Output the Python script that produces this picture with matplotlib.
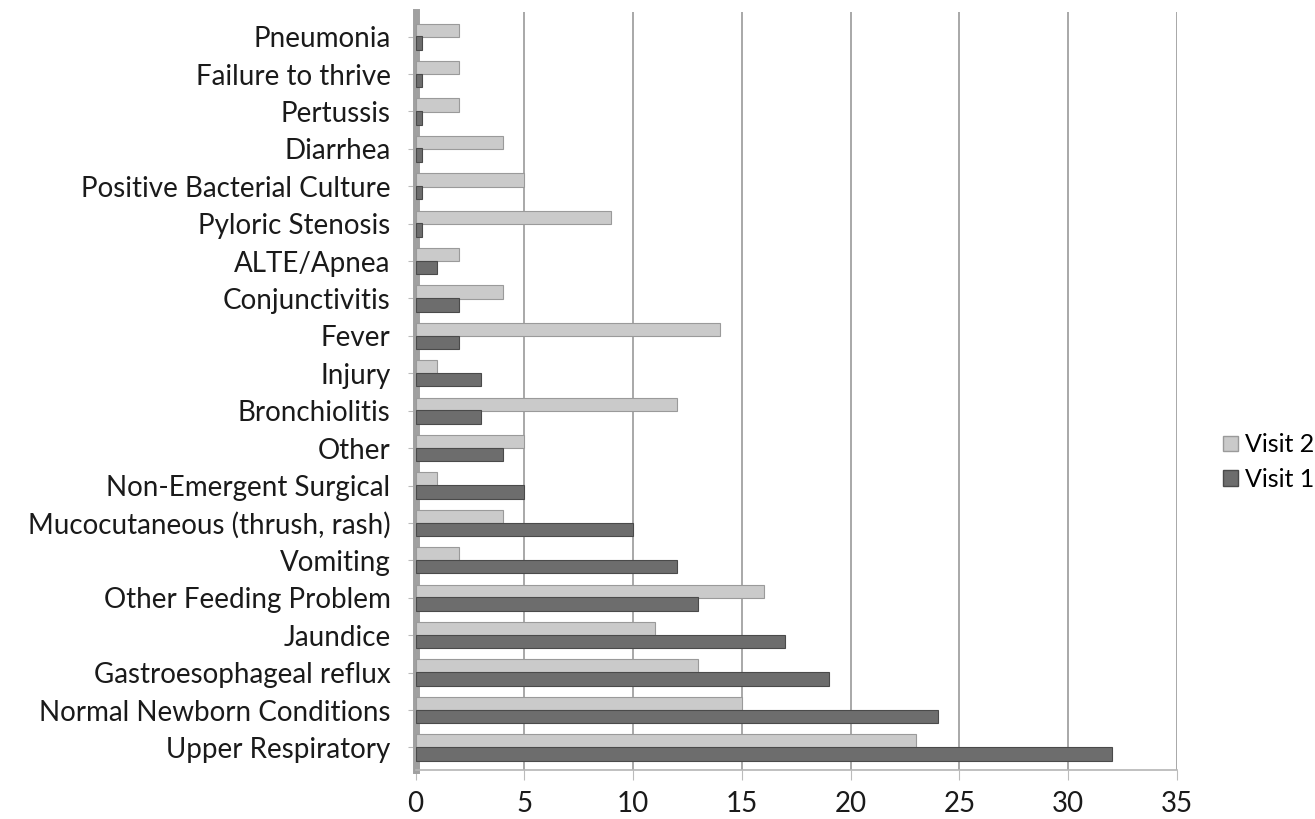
import numpy as np
import matplotlib
matplotlib.use("Agg")
import matplotlib.pyplot as plt
from matplotlib.patches import Patch

plt.rcParams["font.family"] = ["Lato", "DejaVu Sans"]

# categories top -> bottom as in the picture
categories = [
    "Pneumonia", "Failure to thrive", "Pertussis", "Diarrhea",
    "Positive Bacterial Culture", "Pyloric Stenosis", "ALTE/Apnea",
    "Conjunctivitis", "Fever", "Injury", "Bronchiolitis", "Other",
    "Non-Emergent Surgical", "Mucocutaneous (thrush, rash)", "Vomiting",
    "Other Feeding Problem", "Jaundice", "Gastroesophageal reflux",
    "Normal Newborn Conditions", "Upper Respiratory",
]
visit2 = [2, 2, 2, 4, 5, 9, 2, 4, 14, 1, 12, 5, 1, 4, 2, 16, 11, 13, 15, 23]
visit1 = [0, 0, 0, 0, 0, 0, 1, 2, 2, 3, 3, 4, 5, 10, 12, 13, 17, 19, 24, 32]
xticks = [0, 5, 10, 15, 20, 25, 30, 35]

c_v2 = "#cacaca"
c_v1 = "#6d6d6d"

fig = plt.figure(figsize=(13.15, 8.19), dpi=100)
ax = fig.add_axes([0.316, 0.06, 0.579, 0.925])

y = np.arange(len(categories))[::-1].astype(float)
h = 0.36
# zero-valued bars still show a small stub in the original
w2 = np.maximum(visit2, 0.3)
w1 = np.maximum(visit1, 0.3)
ax.barh(y + 0.17, w2, height=h, color=c_v2, edgecolor="#9a9a9a", linewidth=0.8, zorder=3)
ax.barh(y - 0.17, w1, height=h, color=c_v1, edgecolor="#4a4a4a", linewidth=0.8, zorder=3)

ax.set_xlim(0, 35)
ax.set_ylim(-0.6, len(categories) - 0.35)
ax.set_yticks(y)
ax.set_yticklabels(categories, fontsize=20, color="#1a1a1a")
ax.set_xticks(xticks)
ax.set_xticklabels([str(t) for t in xticks], fontsize=20, color="#1a1a1a")
ax.tick_params(axis="y", length=6, color="#bbbbbb", pad=12)
ax.tick_params(axis="x", length=7, color="#bbbbbb", pad=8)

ax.grid(axis="x", color="#a8a8a8", linewidth=1.4, zorder=0)
for s in ["top", "right"]:
    ax.spines[s].set_visible(False)
ax.spines["left"].set_color("#a0a0a0")
ax.spines["left"].set_linewidth(5)
ax.spines["bottom"].set_color("#b5b5b5")
ax.spines["bottom"].set_linewidth(1.2)

handles = [Patch(facecolor=c_v2, edgecolor="#9a9a9a", label="Visit 2"),
           Patch(facecolor=c_v1, edgecolor="#4a4a4a", label="Visit 1")]
fig.legend(handles=handles, loc="center left", bbox_to_anchor=(0.93, 0.436),
           frameon=False, fontsize=18, handlelength=0.6, handleheight=0.6,
           handletextpad=0.3, labelspacing=0.45, borderaxespad=0, borderpad=0)

fig.savefig("out.png", dpi=100)
